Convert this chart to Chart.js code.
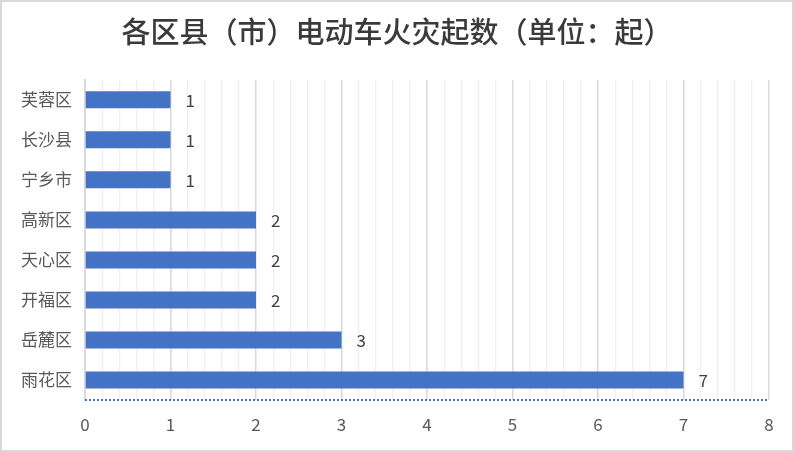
<!DOCTYPE html>
<html>
<head>
<meta charset="utf-8">
<script src="https://cdn.jsdelivr.net/npm/chart.js@4.4.1/dist/chart.umd.min.js"></script>
<style>
    html, body { margin: 0; padding: 0; background: #ffffff; }
    #wrap { position: relative; width: 794px; height: 452px; }
</style>
</head>
<body>
<div id="wrap"><canvas id="fireChart" width="794" height="452"></canvas></div>
<script>
// Données : incendies de vélos électriques par district
const districts = ["芙蓉区", "长沙县", "宁乡市", "高新区", "天心区", "开福区", "岳麓区", "雨花区"];
const fireCounts = [1, 1, 1, 2, 2, 2, 3, 7];
const axisMin = 0;
const axisMax = 8;

const fontCJK = "'Noto Sans CJK SC', 'Noto Sans', sans-serif";

// Cadre gris autour de l'image
const framePlugin = {
    id: "frame",
    beforeDraw(chart) {
        const { ctx, width, height } = chart;
        ctx.save();
        ctx.fillStyle = "#ffffff";
        ctx.fillRect(0, 0, width, height);
        ctx.strokeStyle = "#d9d9d9";
        ctx.lineWidth = 2;
        ctx.strokeRect(1, 1, width - 2, height - 2);
        ctx.restore();
    },
};

// Ligne pointillée bleue en bas de la zone de tracé
const dottedBase = {
    id: "dottedBase",
    afterDatasetsDraw(chart) {
        const { ctx, chartArea } = chart;
        ctx.save();
        ctx.strokeStyle = "#4472c4";
        ctx.lineWidth = 2;
        ctx.setLineDash([2, 2]);
        ctx.beginPath();
        ctx.moveTo(chartArea.left, chartArea.bottom);
        ctx.lineTo(chartArea.right, chartArea.bottom);
        ctx.stroke();
        ctx.restore();
    },
};

// Étiquettes de valeur à droite des barres
const valueLabels = {
    id: "valueLabels",
    afterDatasetsDraw(chart) {
        const { ctx } = chart;
        const meta = chart.getDatasetMeta(0);
        ctx.save();
        ctx.font = "17px " + fontCJK;
        ctx.fillStyle = "#404040";
        ctx.textAlign = "left";
        ctx.textBaseline = "middle";
        meta.data.forEach((bar, i) => {
            ctx.fillText(String(fireCounts[i]), bar.x + 15, bar.y + 1);
        });
        ctx.restore();
    },
};

const isWhole = (v) => Math.abs(v - Math.round(v)) < 1e-6;

new Chart(document.getElementById("fireChart").getContext("2d"), {
    type: "bar",
    data: {
        labels: districts,
        datasets: [
            {
                data: fireCounts,
                backgroundColor: "#4472c4",
                borderWidth: 0,
                categoryPercentage: 0.85,
                barPercentage: 0.5,
            },
        ],
    },
    options: {
        indexAxis: "y",
        responsive: false,
        animation: false,
        layout: { padding: 0 },
        plugins: {
            legend: { display: false },
            tooltip: { enabled: false },
            title: {
                display: true,
                text: "各区县（市）电动车火灾起数（单位：起）",
                color: "#3a3a3a",
                font: { family: fontCJK, size: 29, weight: "500" },
                padding: { top: 15, bottom: 30 },
            },
        },
        scales: {
            x: {
                min: axisMin,
                max: axisMax,
                afterFit(scale) { scale.height = 52; },
                ticks: {
                    stepSize: 0.2,
                    autoSkip: false,
                    maxRotation: 0,
                    padding: 14,
                    color: "#595959",
                    font: { family: fontCJK, size: 17 },
                    callback: (v) => (isWhole(v) ? String(Math.round(v)) : ""),
                },
                grid: {
                    drawTicks: false,
                    color: (c) => (c.tick && isWhole(c.tick.value) ? "#d9d9d9" : "#efefef"),
                    lineWidth: (c) => (c.tick && isWhole(c.tick.value) ? 1.5 : 1.2),
                },
                border: { display: false },
            },
            y: {
                afterFit(scale) { scale.width = 85; },
                ticks: {
                    padding: 13,
                    color: "#595959",
                    font: { family: fontCJK, size: 17 },
                },
                grid: { display: false, drawTicks: false },
                border: { display: true, color: "#d9d9d9", width: 2 },
            },
            // axe vide à droite, sert seulement de marge
            rightGap: {
                type: "linear",
                position: "right",
                afterFit(scale) { scale.width = 25; },
                ticks: { display: false },
                grid: { display: false, drawTicks: false },
                border: { display: false },
            },
        },
    },
    plugins: [framePlugin, dottedBase, valueLabels],
});
</script>
</body>
</html>
